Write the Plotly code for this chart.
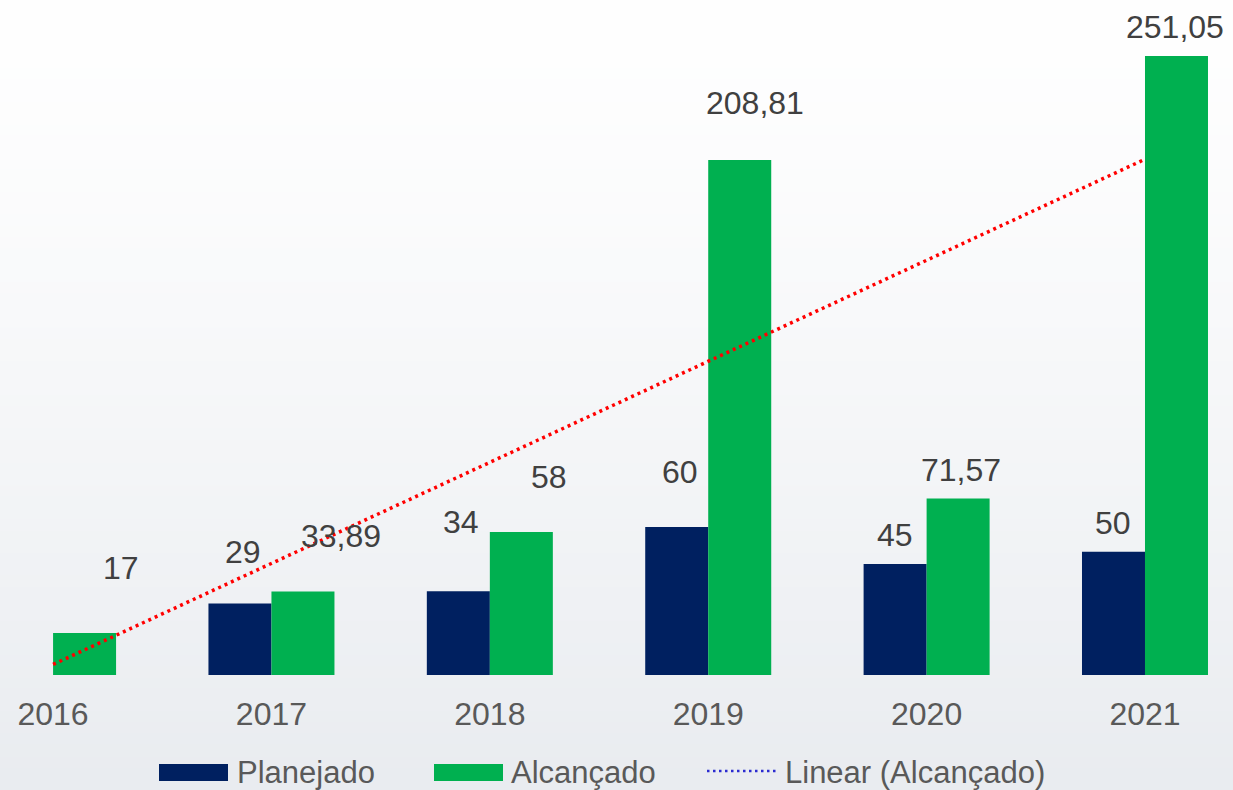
import plotly.graph_objects as go
import numpy as np

# ---------------- data ----------------
years = ["2016", "2017", "2018", "2019", "2020", "2021"]
planejado = [None, 29, 34, 60, 45, 50]
alcancado = [17, 33.89, 58, 208.81, 71.57, 251.05]
series_names = ["Planejado", "Alcançado", "Linear (Alcançado)"]

# ---------------- styles / positions ----------------
C_PLAN = "#002060"
C_ALC = "#00B050"
C_TREND = "#FF0000"
C_LEG_TREND = "#2B2BD0"
FONT = "Liberation Sans, Arial, sans-serif"
W, H = 1233, 790
ML, MR, MT, MB = 0, 0, 0, 115
PLOT_H = H - MT - MB

# label offsets (px) relative to bar centre / bar top
plan_dx = [0, 3, 3, 3, 0, 0]
plan_dy = [0, 51, 69, 55, 29, 29]
alc_dx = [36, 38, 28, 15, 3, -1]
alc_dy = [65, 55, 55, 57, 29, 29]
BAR_HALF = 31.5


def fmt(v):
    if float(v).is_integer():
        return str(int(v))
    return f"{v:.2f}".replace(".", ",")


# linear trend of Alcançado (least squares)
xs = np.arange(len(alcancado))
slope, intercept = np.polyfit(xs, np.array(alcancado, dtype=float), 1)
trend = intercept + slope * xs

fig = go.Figure()
fig.add_trace(go.Bar(x=years, y=planejado, name=series_names[0],
                     marker=dict(color=C_PLAN, line=dict(width=0)),
                     showlegend=False))
fig.add_trace(go.Bar(x=years, y=alcancado, name=series_names[1],
                     marker=dict(color=C_ALC, line=dict(width=0)),
                     showlegend=False))
fig.add_trace(go.Scatter(x=years, y=trend, mode="lines", name=series_names[2],
                         line=dict(color=C_TREND, width=3.5, dash="3px,4px"),
                         showlegend=False))

annotations = []
for i in range(len(years)):
    if planejado[i] is not None:
        annotations.append(dict(x=i, y=planejado[i], xref="x", yref="y",
                                text=fmt(planejado[i]), showarrow=False,
                                xshift=-BAR_HALF + plan_dx[i], yshift=plan_dy[i],
                                font=dict(family=FONT, size=32, color="#404040")))
    annotations.append(dict(x=i, y=alcancado[i], xref="x", yref="y",
                            text=fmt(alcancado[i]), showarrow=False,
                            xshift=BAR_HALF + alc_dx[i], yshift=alc_dy[i],
                            font=dict(family=FONT, size=32, color="#404040")))


def px(xp):
    return (xp - ML) / (W - ML - MR)


def py(yp):
    return (MT + PLOT_H - yp) / PLOT_H


shapes = []
# background gradient
N = 70
top = np.array([255, 255, 255])
bot = np.array([233, 236, 240])
y_top, y_bot = 0, H
for k in range(N):
    t = (k + 0.5) / N
    c = top + (bot - top) * t ** 1.3
    y0 = y_top + (y_bot - y_top) * k / N
    y1 = y_top + (y_bot - y_top) * (k + 1) / N + 1
    shapes.append(dict(type="rect", xref="paper", yref="paper", layer="below",
                       x0=-0.01, x1=1.01, y0=py(y1), y1=py(y0),
                       fillcolor=f"rgb({int(c[0])},{int(c[1])},{int(c[2])})",
                       line=dict(width=0)))

# custom legend
LEG_Y = 772
shapes.append(dict(type="rect", xref="paper", yref="paper",
                   x0=px(159), x1=px(228), y0=py(781), y1=py(764),
                   fillcolor=C_PLAN, line=dict(width=0)))
shapes.append(dict(type="rect", xref="paper", yref="paper",
                   x0=px(434), x1=px(503), y0=py(781), y1=py(764),
                   fillcolor=C_ALC, line=dict(width=0)))
shapes.append(dict(type="line", xref="paper", yref="paper",
                   x0=px(707), x1=px(778), y0=py(771), y1=py(771),
                   line=dict(color=C_LEG_TREND, width=2.5, dash="2.5px,3.5px")))
for name, xx in zip(series_names, [235, 509, 783]):
    annotations.append(dict(x=px(xx), y=py(LEG_Y), xref="paper", yref="paper",
                            text=name, showarrow=False, xanchor="left",
                            yanchor="middle",
                            font=dict(family=FONT, size=31, color="#595959")))

ymax = PLOT_H / 2.466
fig.update_layout(
    width=W, height=H,
    margin=dict(l=ML, r=MR, t=MT, b=MB, pad=0),
    paper_bgcolor="rgb(238,240,243)",
    plot_bgcolor="rgba(0,0,0,0)",
    barmode="group", bargap=0.423, bargroupgap=0,
    shapes=shapes, annotations=annotations,
    showlegend=False,
    xaxis=dict(type="category", range=[-0.243, 5.403], showgrid=False,
               zeroline=False, showline=False, ticks="",
               ticklabelstandoff=17,
               tickfont=dict(family=FONT, size=32, color="#595959")),
    yaxis=dict(range=[0, ymax], showgrid=False, zeroline=False,
               showline=False, showticklabels=False, ticks=""),
)

fig.write_html("out.html",
               config={"displayModeBar": False},
               post_script="document.body.style.margin='0';"
                           "document.body.style.overflow='hidden';")
